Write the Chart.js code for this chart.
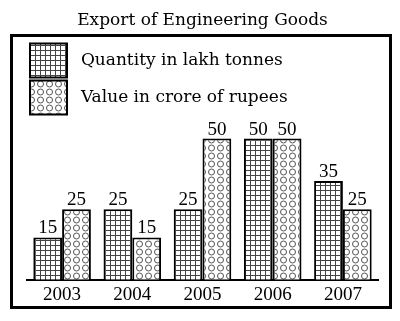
<!DOCTYPE html>
<html>
<head>
<meta charset="utf-8">
<script src="https://cdn.jsdelivr.net/npm/chart.js"></script>
<style>
body { margin: 0; background: #fff; }
</style>
</head>
<body>
<canvas id="exportChart" width="400" height="321"></canvas>
<script>
const years = ['2003', '2004', '2005', '2006', '2007'];
const quantity = [15, 25, 25, 50, 35];
const value = [25, 15, 50, 50, 25];
const seriesNames = ['Quantity in lakh tonnes', 'Value in crore of rupees'];

function gridPattern(ctx) {
    const c = document.createElement('canvas');
    c.width = 5; c.height = 5;
    const g = c.getContext('2d');
    g.fillStyle = '#fff';
    g.fillRect(0, 0, 5, 5);
    g.fillStyle = '#444';
    g.fillRect(0, 0, 5, 1);
    g.fillRect(0, 0, 1, 5);
    return ctx.createPattern(c, 'repeat');
}

function circlePattern(ctx) {
    const c = document.createElement('canvas');
    c.width = 9; c.height = 8;
    const g = c.getContext('2d');
    g.fillStyle = '#fff';
    g.fillRect(0, 0, 9, 8);
    g.strokeStyle = '#555';
    g.lineWidth = 1;
    g.beginPath();
    g.arc(4.5, 4, 3, 0, Math.PI * 2);
    g.stroke();
    return ctx.createPattern(c, 'repeat');
}

// outer frame and value labels
const framePlugin = {
    id: 'frame',
    beforeDraw(chart) {
        const c = chart.ctx;
        c.save();
        c.strokeStyle = '#000';
        c.lineWidth = 3;
        c.strokeRect(11.5, 35.5, 379, 272);
        c.restore();
    },
    afterDatasetsDraw(chart) {
        const c = chart.ctx;
        c.save();
        c.fillStyle = '#000';
        c.font = "19px 'Liberation Serif'";
        c.textAlign = 'center';
        c.textBaseline = 'alphabetic';
        chart.data.datasets.forEach((ds, i) => {
            chart.getDatasetMeta(i).data.forEach((bar, j) => {
                c.fillText(ds.data[j], bar.x, bar.y - 4);
            });
        });
        c.restore();
    }
};

const ctx = document.getElementById('exportChart').getContext('2d');

const myChart = new Chart(ctx, {
    type: 'bar',
    data: {
        labels: years,
        datasets: [{
            label: seriesNames[0],
            data: quantity,
            backgroundColor: gridPattern(ctx),
            borderColor: '#000',
            borderWidth: 2,
            borderSkipped: 'bottom'
        }, {
            label: seriesNames[1],
            data: value,
            backgroundColor: circlePattern(ctx),
            borderColor: '#000',
            borderWidth: 2,
            borderSkipped: 'bottom'
        }]
    },
    options: {
        responsive: false,
        animation: false,
        categoryPercentage: 0.82,
        barPercentage: 1.0,
        layout: {
            padding: { left: 27, right: 22, top: 0, bottom: 10.4 }
        },
        scales: {
            x: {
                grid: { display: false, drawTicks: false },
                border: { display: true, color: '#000', width: 2 },
                ticks: {
                    color: '#000',
                    padding: 4,
                    font: { family: "'Liberation Serif'", size: 19 }
                }
            },
            y: {
                display: false,
                min: 0,
                max: 55
            }
        },
        plugins: {
            title: {
                display: true,
                text: 'Export of Engineering Goods',
                color: '#000',
                padding: { top: 10, bottom: 10 },
                font: { family: "'DejaVu Serif'", size: 17, weight: 'normal' }
            },
            legend: {
                position: 'top',
                align: 'start',
                labels: {
                    boxWidth: 37,
                    boxHeight: 34,
                    padding: 3,
                    color: '#000',
                    font: { family: "'DejaVu Serif'", size: 17, lineHeight: 34 / 17 },
                    generateLabels(chart) {
                        const items = Chart.defaults.plugins.legend.labels.generateLabels(chart);
                        items.forEach(it => { it.text = ' ' + it.text; });
                        return items;
                    }
                }
            },
            tooltip: { enabled: false }
        }
    },
    plugins: [framePlugin]
});
</script>
</body>
</html>
